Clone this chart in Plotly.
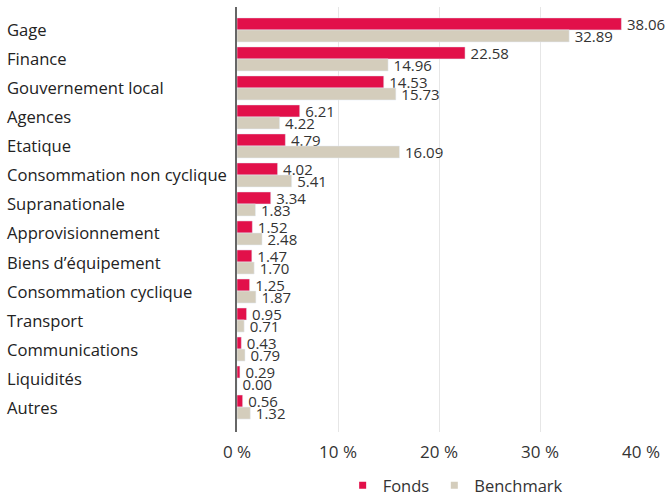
import plotly.graph_objects as go

categories = ["Gage", "Finance", "Gouvernement local", "Agences", "Etatique",
              "Consommation non cyclique", "Supranationale", "Approvisionnement",
              "Biens d\u2019\u00e9quipement", "Consommation cyclique", "Transport",
              "Communications", "Liquidit\u00e9s", "Autres"]
fonds = [38.06, 22.58, 14.53, 6.21, 4.79, 4.02, 3.34, 1.52, 1.47, 1.25, 0.95, 0.43, 0.29, 0.56]
benchmark = [32.89, 14.96, 15.73, 4.22, 16.09, 5.41, 1.83, 2.48, 1.70, 1.87, 0.71, 0.79, 0.00, 1.32]
tick_vals = [0, 10, 20, 30, 40]
tick_text = ["0 %", "10 %", "20 %", "30 %", "40 %"]

FONT = "Open Sans"
TXT = "#333333"
RED = "#E2104A"
BEIGE = "#D4CDBC"

fig = go.Figure()
fig.add_trace(go.Bar(y=categories, x=fonds, orientation="h", name="Fonds",
                     marker=dict(color=RED), showlegend=False,
                     text=[f"\u2009{v:.2f}" for v in fonds], textposition="outside",
                     textfont=dict(size=15, color=TXT, family=FONT),
                     constraintext="none", cliponaxis=False))
fig.add_trace(go.Bar(y=categories, x=benchmark, orientation="h", name="Benchmark",
                     marker=dict(color=BEIGE), showlegend=False,
                     text=[f"\u2009{v:.2f}" for v in benchmark], textposition="outside",
                     textfont=dict(size=15, color=TXT, family=FONT),
                     constraintext="none", cliponaxis=False))
# legend entries with small square symbols
fig.add_trace(go.Scatter(x=[None], y=[None], mode="markers", name="Fonds",
                         marker=dict(symbol="square", size=7, color=RED)))
fig.add_trace(go.Scatter(x=[None], y=[None], mode="markers", name="Benchmark",
                         marker=dict(symbol="square", size=7, color=BEIGE)))

for c in categories:
    fig.add_annotation(x=-232/404, xref="paper", y=c, yref="y", text=c,
                       showarrow=False, xanchor="left", yanchor="middle",
                       font=dict(size=16.6, color="#222222", family=FONT))

fig.update_layout(
    width=668, height=496,
    margin=dict(l=237, r=27, t=7, b=64, autoexpand=False),
    paper_bgcolor="white", plot_bgcolor="white",
    barmode="group", bargap=0.17, bargroupgap=0,
    font=dict(family=FONT, color=TXT),
    showlegend=True,
    legend=dict(orientation="h", x=0.54, xanchor="center", y=-0.126, yanchor="middle",
                font=dict(size=16.5, color=TXT, family=FONT), itemwidth=30,
                traceorder="normal", tracegroupgap=0),
    xaxis=dict(range=[0, 40], tickvals=tick_vals, ticktext=tick_text,
               showgrid=True, gridcolor="#E6E6E6", gridwidth=1, zeroline=False,
               tickfont=dict(size=17, color=TXT, family=FONT), ticks="",
               ticklabelstandoff=8),
    yaxis=dict(type="category", range=[13.86, -0.79], showticklabels=False,
               showline=True, linecolor="#666666", linewidth=2, ticks="",
               showgrid=False),
)

fig.write_html("out.html", config={"displayModeBar": False},
               post_script="document.body.style.margin='0';")
